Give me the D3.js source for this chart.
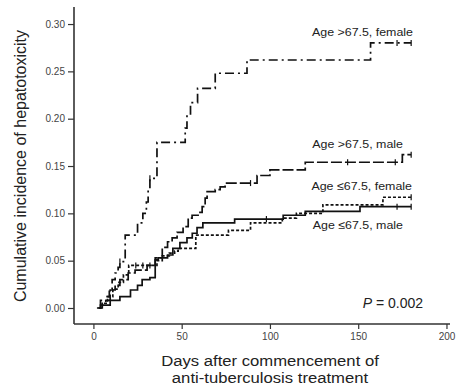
<!DOCTYPE html>
<html><head><meta charset="utf-8">
<script src="https://cdn.jsdelivr.net/npm/d3@7"></script>
<style>body{margin:0;background:#fff}svg{display:block}</style>
</head><body>
<svg id="c" width="456" height="387"></svg>
<script>
// ---- data ----
const xTicks = [0, 50, 100, 150, 200];
const yTicks = [0, 0.05, 0.10, 0.15, 0.20, 0.25, 0.30];

// Age >67.5, female (dash-dot)
const timeF_old = [3,5,7,9,10.6,12.3,14,15,18,25,28,30,31,32,36,52,53,55,59,69,87,157,180];
const valF_old  = [0,0.005,0.012,0.02,0.03,0.037,0.043,0.049,0.077,0.09,0.10,0.112,0.125,0.137,0.175,0.19,0.204,0.217,0.232,0.248,0.262,0.28,0.28];
const censF_old = [15,32,172,180];

// Age >67.5, male (long dash)
const timeM_old = [3,4,9.5,12.3,15,19.7,23.6,30.4,35,39,42,44.6,47.4,50.8,53.7,55.9,59.3,61.6,63.3,64.4,69,71.8,74.6,92.7,100,120,175,180];
const valM_old  = [0,0.008,0.019,0.024,0.03,0.037,0.04,0.045,0.053,0.064,0.07,0.074,0.08,0.086,0.095,0.098,0.101,0.107,0.116,0.123,0.125,0.128,0.132,0.14,0.146,0.154,0.162,0.162];
const censM_old = [89,144,171,180];

// Age <=67.5, female (short dash)
const timeF_young = [3,5,8,11,14,17,20,36,39,43,46,48,58,76.5,89,107,115,130,164,180];
const valF_young  = [0,0.005,0.012,0.02,0.027,0.035,0.045,0.05,0.055,0.058,0.06,0.063,0.077,0.082,0.09,0.095,0.1,0.109,0.117,0.117];
const censF_young = [24,28,32,180];

// Age <=67.5, male (solid)
const timeM_young = [2,4,9.5,15,21,25,27.6,32,35,36.7,42,45,49,53,56,58.7,62,80,107.5,120,151,180];
const valM_young  = [0,0.003,0.008,0.012,0.019,0.024,0.03,0.032,0.051,0.053,0.056,0.063,0.069,0.074,0.079,0.085,0.09,0.094,0.098,0.102,0.107,0.107];
const censM_young = [98,172,180];

const seriesNames = ["Age >67.5, female","Age >67.5, male","Age \u226467.5, female","Age \u226467.5, male"];
const pText = "0.002";

// ---- drawing ----
const svg = d3.select("#c");
const FONT = "'Liberation Sans', Arial, Helvetica, sans-serif";
const x = d3.scaleLinear().domain([-11, 202]).range([74, 450]);
const y = d3.scaleLinear().domain([-0.0169, 0.318]).range([324, 7]);

// axes lines
const axCol = "#333";
svg.append("line").attr("x1",74).attr("x2",74).attr("y1",y(0.318)).attr("y2",324).attr("stroke",axCol).attr("stroke-width",1.6);
svg.append("line").attr("x1",74).attr("x2",x(202)).attr("y1",324).attr("y2",324).attr("stroke",axCol).attr("stroke-width",1.6);

const yAx = svg.append("g").attr("transform","translate(74,0)")
  .call(d3.axisLeft(y).tickValues(yTicks).tickFormat(d3.format(".2f")).tickSize(6).tickPadding(3));
yAx.select(".domain").remove();
yAx.selectAll("line").attr("stroke",axCol).attr("stroke-width",1.2);
yAx.selectAll("text").attr("font-family",FONT).attr("font-size",10).attr("fill","#444");

const xAx = svg.append("g").attr("transform","translate(0,324)")
  .call(d3.axisBottom(x).tickValues(xTicks).tickFormat(d3.format("d")).tickSize(5).tickPadding(4));
xAx.select(".domain").remove();
xAx.selectAll("line").attr("stroke",axCol).attr("stroke-width",1.2);
xAx.selectAll("text").attr("font-family",FONT).attr("font-size",10).attr("fill","#444");

// curves
const line = d3.line().x(d=>x(d[0])).y(d=>y(d[1])).curve(d3.curveStepAfter);
function stepVal(ts, vs, t){ let v = vs[0]; for(let i=0;i<ts.length;i++){ if(ts[i]<=t) v=vs[i]; } return v; }
function drawSeries(ts, vs, cens, dash){
  const pts = ts.map((t,i)=>[t,vs[i]]);
  svg.append("path").attr("d", line(pts)).attr("fill","none").attr("stroke","#111")
    .attr("stroke-width",1.7).attr("stroke-dasharray",dash);
  cens.forEach(c=>{
    const v = stepVal(ts, vs, c);
    svg.append("line").attr("x1",x(c)).attr("x2",x(c)).attr("y1",y(v)-3).attr("y2",y(v)+3)
      .attr("stroke","#111").attr("stroke-width",1.2);
  });
}
drawSeries(timeF_old, valF_old, censF_old, "9,4,2,4");
drawSeries(timeM_old, valM_old, censM_old, "11,3");
drawSeries(timeF_young, valF_young, censF_young, "3,2");
drawSeries(timeM_young, valM_young, censM_young, null);

// labels
function txt(xp, yp, s, size, anchor, sx){
  return svg.append("text").attr("transform",`translate(${xp},${yp}) scale(${sx||1},1)`)
    .attr("text-anchor",anchor).attr("font-family",FONT).attr("font-size",size).attr("fill","#222").text(s);
}
txt(413, 36, seriesNames[0], 11.5, "end", 1.08);
txt(403, 148, seriesNames[1], 11.5, "end", 1.08);
txt(412, 190, seriesNames[2], 11.5, "end", 1.08);
txt(403, 229, seriesNames[3], 11.5, "end", 1.08);

const p = svg.append("text").attr("x",423).attr("y",308).attr("text-anchor","end")
  .attr("font-family",FONT).attr("font-size",14).attr("fill","#222");
p.append("tspan").attr("font-style","italic").text("P");
p.append("tspan").text(" = " + pText);

// axis titles
svg.append("text").attr("transform","translate(26,166) rotate(-90)").attr("text-anchor","middle")
  .attr("font-family",FONT).attr("font-size",16).attr("fill","#222").text("Cumulative incidence of hepatotoxicity");
txt(270, 366, "Days after commencement of", 14.5, "middle", 1.15);
txt(270, 383, "anti-tuberculosis treatment", 14.5, "middle", 1.15);
</script>
</body></html>
